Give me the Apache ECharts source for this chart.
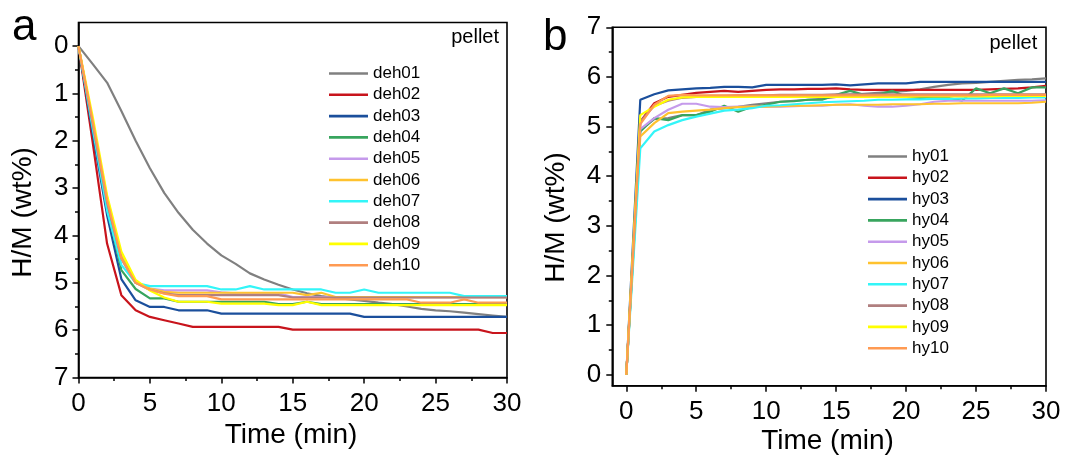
<!DOCTYPE html>
<html>
<head>
<meta charset="utf-8">
<script src="https://cdn.jsdelivr.net/npm/echarts@6/dist/echarts.min.js"></script>
<style>html,body{margin:0;padding:0;background:#fff;}#c{width:1078px;height:457px;}</style>
</head>
<body>
<div id="c"></div>
<script>
// ---------- data ----------
const time = [0,1,2,3,4,5,6,7,8,9,10,11,12,13,14,15,16,17,18,19,20,21,22,23,24,25,26,27,28,29,30];

const dehNames = ['deh01','deh02','deh03','deh04','deh05','deh06','deh07','deh08','deh09','deh10'];
const deh01 = [0,0.38,0.77,1.37,2.0,2.58,3.1,3.52,3.88,4.17,4.42,4.6,4.8,4.93,5.04,5.14,5.22,5.28,5.32,5.35,5.38,5.42,5.45,5.5,5.55,5.58,5.6,5.63,5.66,5.69,5.72];
const deh02 = [0,2.05,4.17,5.26,5.58,5.72,5.79,5.86,5.93,5.93,5.93,5.93,5.93,5.93,5.93,5.99,5.99,5.99,5.99,5.99,5.99,5.99,5.99,5.99,5.99,5.99,5.99,5.99,5.99,6.06,6.06];
const deh03 = [0,1.85,3.57,4.92,5.37,5.51,5.51,5.58,5.58,5.58,5.65,5.65,5.65,5.65,5.65,5.65,5.65,5.65,5.65,5.65,5.72,5.72,5.72,5.72,5.72,5.72,5.72,5.72,5.72,5.72,5.72];
const deh04 = [0,1.7,3.4,4.73,5.13,5.33,5.33,5.4,5.4,5.4,5.4,5.4,5.4,5.4,5.45,5.45,5.4,5.45,5.45,5.45,5.45,5.45,5.45,5.45,5.45,5.45,5.45,5.45,5.45,5.45,5.45];
const deh05 = [0,1.65,3.3,4.5,5.0,5.12,5.16,5.16,5.16,5.16,5.2,5.22,5.22,5.22,5.22,5.3,5.3,5.3,5.3,5.3,5.3,5.3,5.3,5.3,5.3,5.3,5.3,5.3,5.3,5.3,5.3];
const deh06 = [0,1.6,3.2,4.41,4.98,5.12,5.19,5.21,5.21,5.21,5.21,5.21,5.21,5.21,5.21,5.21,5.26,5.21,5.3,5.3,5.3,5.3,5.3,5.3,5.3,5.3,5.3,5.3,5.3,5.3,5.3];
const deh07 = [0,1.75,3.47,4.62,5.0,5.07,5.07,5.07,5.07,5.07,5.14,5.14,5.07,5.14,5.14,5.14,5.14,5.14,5.21,5.21,5.14,5.21,5.21,5.21,5.21,5.21,5.21,5.28,5.28,5.28,5.28];
const deh08 = [0,1.65,3.3,4.48,5.0,5.15,5.22,5.26,5.26,5.26,5.26,5.26,5.26,5.26,5.26,5.31,5.31,5.31,5.31,5.31,5.31,5.31,5.31,5.31,5.31,5.31,5.31,5.31,5.31,5.31,5.31];
const deh09 = [0,1.5,3.15,4.34,4.94,5.16,5.31,5.4,5.4,5.4,5.44,5.44,5.44,5.44,5.47,5.47,5.4,5.47,5.47,5.47,5.47,5.47,5.47,5.47,5.47,5.47,5.47,5.47,5.47,5.47,5.47];
const deh10 = [0,1.6,3.25,4.48,5.0,5.14,5.23,5.28,5.28,5.28,5.35,5.35,5.35,5.35,5.35,5.35,5.35,5.35,5.35,5.35,5.35,5.35,5.35,5.35,5.42,5.42,5.42,5.35,5.42,5.42,5.42];

const hyNames = ['hy01','hy02','hy03','hy04','hy05','hy06','hy07','hy08','hy09','hy10'];
const hy01 = [0,4.93,5.15,5.17,5.23,5.23,5.34,5.37,5.4,5.44,5.47,5.5,5.52,5.54,5.56,5.6,5.64,5.66,5.68,5.7,5.72,5.75,5.8,5.84,5.87,5.88,5.9,5.92,5.94,5.95,5.97];
const hy02 = [0,5.1,5.47,5.6,5.64,5.68,5.7,5.72,5.7,5.72,5.74,5.75,5.75,5.76,5.76,5.77,5.75,5.74,5.74,5.74,5.74,5.74,5.74,5.74,5.74,5.74,5.75,5.76,5.77,5.79,5.82];
const hy03 = [0,5.54,5.65,5.73,5.75,5.77,5.78,5.8,5.8,5.79,5.84,5.84,5.84,5.84,5.84,5.85,5.83,5.85,5.87,5.87,5.87,5.9,5.9,5.9,5.9,5.9,5.9,5.9,5.9,5.9,5.9];
const hy04 = [0,4.9,5.17,5.13,5.23,5.23,5.3,5.42,5.3,5.4,5.44,5.5,5.51,5.54,5.54,5.64,5.72,5.64,5.64,5.72,5.6,5.58,5.58,5.58,5.52,5.77,5.67,5.77,5.67,5.79,5.79];
const hy05 = [0,4.95,5.17,5.34,5.46,5.46,5.4,5.39,5.4,5.4,5.4,5.4,5.41,5.42,5.42,5.44,5.45,5.42,5.4,5.4,5.42,5.45,5.5,5.52,5.52,5.52,5.52,5.52,5.52,5.52,5.53];
const hy06 = [0,4.8,5.07,5.27,5.3,5.32,5.34,5.37,5.39,5.4,5.4,5.41,5.42,5.42,5.43,5.44,5.44,5.44,5.44,5.45,5.45,5.45,5.46,5.46,5.47,5.47,5.47,5.47,5.47,5.48,5.5];
const hy07 = [0,4.56,4.9,5.03,5.13,5.2,5.26,5.32,5.34,5.37,5.42,5.43,5.45,5.47,5.49,5.5,5.51,5.52,5.54,5.54,5.55,5.55,5.56,5.56,5.57,5.57,5.58,5.58,5.58,5.59,5.59];
const hy08 = [0,5.1,5.42,5.52,5.58,5.6,5.62,5.62,5.63,5.63,5.63,5.64,5.64,5.64,5.64,5.65,5.65,5.65,5.65,5.65,5.65,5.65,5.65,5.65,5.65,5.65,5.65,5.65,5.65,5.65,5.65];
const hy09 = [0,5.23,5.4,5.54,5.59,5.6,5.6,5.6,5.6,5.6,5.6,5.6,5.6,5.6,5.6,5.6,5.6,5.6,5.6,5.6,5.6,5.61,5.61,5.61,5.61,5.61,5.61,5.62,5.62,5.62,5.62];
const hy10 = [0,5.05,5.44,5.62,5.64,5.63,5.63,5.63,5.63,5.63,5.63,5.63,5.63,5.63,5.63,5.63,5.63,5.63,5.63,5.63,5.63,5.63,5.63,5.63,5.63,5.63,5.64,5.64,5.64,5.64,5.64];

const xTicks = [0,5,10,15,20,25,30];
const xMinorTicks = [2.5,7.5,12.5,17.5,22.5,27.5];
const yTicks = [0,1,2,3,4,5,6,7];
const yMinorTicks = [0.5,1.5,2.5,3.5,4.5,5.5,6.5];

const colors = ['#808080','#C8141C','#1B4F9C','#38A55E','#C59AEB','#FFC22E','#33F5F8','#B07F7F','#FFFF00','#FF9A52'];

// ---------- chart ----------
const FONT = 'Liberation Sans, Arial, sans-serif';
const dehData = [deh01,deh02,deh03,deh04,deh05,deh06,deh07,deh08,deh09,deh10];
const hyData = [hy01,hy02,hy03,hy04,hy05,hy06,hy07,hy08,hy09,hy10];
const pair = arr => time.map((t,i) => [t, arr[i]]);

const axLine = {show:true, onZero:false, lineStyle:{color:'#000', width:1.6}};
const majorTick = {show:true, inside:false, length:6, lineStyle:{color:'#000', width:1.5}};
const minorTickStyle = {show:true, inside:false, length:3.5, lineStyle:{color:'#000', width:1.5}};
const lbl = {color:'#000', fontSize:26, fontFamily:FONT};

function minorAxis(extra){
  return Object.assign({type:'value', axisLine:{show:false, onZero:false}, axisLabel:{show:false}, splitLine:{show:false},
    axisTick:Object.assign({}, minorTickStyle)}, extra);
}

const series = [];
dehData.forEach((d,i)=>{
  series.push({name:dehNames[i], type:'line', xAxisIndex:0, yAxisIndex:0, data:pair(d), symbol:'none',
    lineStyle:{width:2.2, color:colors[i]}, itemStyle:{color:colors[i]}, animation:false});
});
hyData.forEach((d,i)=>{
  series.push({name:hyNames[i], type:'line', xAxisIndex:1, yAxisIndex:2, data:pair(d), symbol:'none',
    lineStyle:{width:2.2, color:colors[i]}, itemStyle:{color:colors[i]}, animation:false});
});

const legendCommon = {orient:'vertical', icon:'rect', itemWidth:39, itemHeight:2.6, itemGap:4.3, padding:0, selectedMode:false,
  textStyle:{fontSize:17, fontFamily:FONT, color:'#000'}};

const option = {
  animation:false,
  backgroundColor:'#fff',
  grid:[
    {left:78.5, top:22.5, width:428.5, height:355, show:true, borderColor:'#000', borderWidth:1.6, backgroundColor:'transparent'},
    {left:612.3, top:27.3, width:433.7, height:358.4, show:true, borderColor:'#000', borderWidth:1.6, backgroundColor:'transparent'}
  ],
  xAxis:[
    {type:'value', gridIndex:0, position:'bottom', min:0, max:30, interval:5, axisLine:axLine, axisTick:majorTick,
      minorTick:{show:true, splitNumber:2, length:3.5, lineStyle:{color:'#000', width:1.5}},
      axisLabel:Object.assign({margin:13}, lbl), splitLine:{show:false}, minorSplitLine:{show:false}},
    {type:'value', gridIndex:1, position:'bottom', min:-1, max:30, axisLine:axLine,
      axisTick:Object.assign({customValues:xTicks}, majorTick),
      axisLabel:Object.assign({margin:13, customValues:xTicks}, lbl), splitLine:{show:false}},
    minorAxis({gridIndex:1, position:'bottom', min:-1, max:30, axisTick:Object.assign({customValues:xMinorTicks}, minorTickStyle)})
  ],
  yAxis:[
    {type:'value', gridIndex:0, position:'left', min:-0.5, max:7, inverse:true, axisLine:axLine,
      axisTick:Object.assign({customValues:yTicks}, majorTick),
      axisLabel:Object.assign({margin:10, customValues:yTicks}, lbl), splitLine:{show:false}},
    minorAxis({gridIndex:0, position:'left', min:-0.5, max:7, inverse:true, axisTick:Object.assign({customValues:yMinorTicks}, minorTickStyle)}),
    {type:'value', gridIndex:1, position:'left', min:-0.22, max:7, axisLine:axLine,
      axisTick:Object.assign({customValues:yTicks}, majorTick),
      axisLabel:Object.assign({margin:11, customValues:yTicks}, lbl), splitLine:{show:false}},
    minorAxis({gridIndex:1, position:'left', min:-0.22, max:7, axisTick:Object.assign({customValues:yMinorTicks}, minorTickStyle)})
  ],
  legend:[
    Object.assign({left:329, top:65, data:dehNames}, legendCommon),
    Object.assign({left:868, top:148, data:hyNames}, legendCommon)
  ],
  graphic:[
    {type:'text', x:12, y:27.4, style:{text:'a', font:'44px '+FONT, fill:'#000', align:'left', verticalAlign:'middle'}},
    {type:'text', x:543, y:37.4, style:{text:'b', font:'44px '+FONT, fill:'#000', align:'left', verticalAlign:'middle'}},
    {type:'text', x:499, y:37.4, style:{text:'pellet', font:'20px '+FONT, fill:'#000', align:'right', verticalAlign:'middle'}},
    {type:'text', x:1037.3, y:43.4, style:{text:'pellet', font:'20px '+FONT, fill:'#000', align:'right', verticalAlign:'middle'}},
    {type:'text', x:291, y:435, style:{text:'Time (min)', font:'28px '+FONT, fill:'#000', align:'center', verticalAlign:'middle'}},
    {type:'text', x:827.5, y:441.5, style:{text:'Time (min)', font:'28px '+FONT, fill:'#000', align:'center', verticalAlign:'middle'}},
    {type:'text', x:23.6, y:212.4, rotation:Math.PI/2, style:{text:'H/M (wt%)', font:'28px '+FONT, fill:'#000', align:'center', verticalAlign:'middle'}},
    {type:'text', x:556.3, y:217.5, rotation:Math.PI/2, style:{text:'H/M (wt%)', font:'28px '+FONT, fill:'#000', align:'center', verticalAlign:'middle'}}
  ],
  series:series
};

const chart = echarts.init(document.getElementById('c'), null, {renderer:'canvas'});
chart.setOption(option);
</script>
</body>
</html>
